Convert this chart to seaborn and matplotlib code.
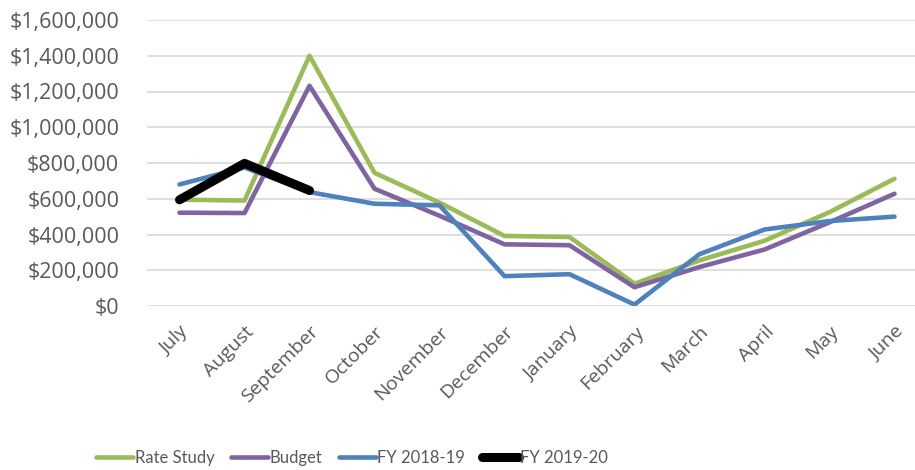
import numpy as np
import pandas as pd
import matplotlib
matplotlib.use("Agg")
import matplotlib.pyplot as plt
import seaborn as sns
from matplotlib.ticker import FuncFormatter, MultipleLocator

# ----------------------------------------------------------------------
# DATA
# ----------------------------------------------------------------------
months = ["July", "August", "September", "October", "November", "December",
          "January", "February", "March", "April", "May", "June"]
rate_study = [595000, 590000, 1400000, 745000, 578000, 392000,
              386000, 125000, 255000, 365000, 525000, 712000]
budget = [522000, 520000, 1232000, 656000, 505000, 345000,
          340000, 105000, 218000, 316000, 468000, 628000]
fy_2018_19 = [680000, 775000, 637000, 572000, 563000, 167000,
              178000, 8000, 290000, 428000, 475000, 500000]
fy_2019_20 = [594000, 798000, 646000]

series_names = ["Rate Study", "Budget", "FY 2018-19", "FY 2019-20"]
series_values = [rate_study, budget, fy_2018_19, fy_2019_20]
colors = ["#9BBB59", "#8064A2", "#4F81BD", "#000000"]
widths = [3.3, 3.3, 3.3, 6.5]

# long format for seaborn
rows = []
for name, vals in zip(series_names, series_values):
    for m, v in zip(months, vals):
        rows.append({"month": m, "series": name, "amount": v})
df = pd.DataFrame(rows)
df["month_idx"] = df["month"].map({m: i for i, m in enumerate(months)})

# ----------------------------------------------------------------------
# PLOT
# ----------------------------------------------------------------------
sns.set_theme(style="white")
plt.rcParams["font.family"] = ["Open Sans", "DejaVu Sans"]
text_color = "#595959"

fig = plt.figure(figsize=(9.15, 4.70), dpi=100)
ax = fig.add_axes([147 / 915, 164 / 470, 780 / 915, 286 / 470])

for name, c, lw in zip(series_names, colors, widths):
    sub = df[df["series"] == name]
    sns.lineplot(data=sub, x="month_idx", y="amount", ax=ax, color=c,
                 linewidth=lw, label=name, solid_capstyle="round",
                 solid_joinstyle="round", legend=False)

ax.set_xlim(-0.5, len(months) - 0.5)
ax.set_ylim(0, 1600000)
ax.yaxis.set_major_locator(MultipleLocator(200000))
ax.yaxis.set_major_formatter(FuncFormatter(lambda v, p: f"${v:,.0f}"))
ax.set_xticks(range(len(months)))
ax.set_xticklabels(months, rotation=45, ha="right", rotation_mode="anchor")
ax.set_xlabel("")
ax.set_ylabel("")

ax.grid(axis="y", color="#d9d9d9", linewidth=1.2)
ax.grid(axis="x", visible=False)
ax.set_axisbelow(True)
for s in ax.spines.values():
    s.set_visible(False)
ax.tick_params(axis="y", length=0, pad=20, labelsize=15.5, labelcolor=text_color)
ax.tick_params(axis="x", length=0, pad=12, labelsize=14, labelcolor=text_color)

handles, labels = ax.get_legend_handles_labels()
fig.legend(handles, labels, loc="center", bbox_to_anchor=(0.385, 0.026),
           ncol=4, frameon=False, handlelength=2.2,
           handletextpad=0.1, columnspacing=1.0, labelcolor=text_color,
           prop={"family": ["Lato", "DejaVu Sans"], "size": 12})

fig.savefig("out.png", dpi=100)
